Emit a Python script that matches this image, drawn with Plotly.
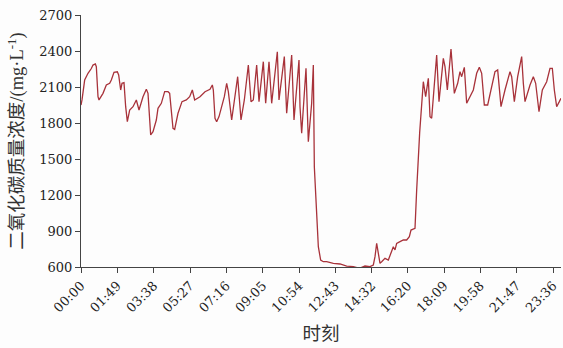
import plotly.graph_objects as go

# time in minutes since 00:00
minutes = [0, 3, 11, 21, 31, 36, 43, 46, 51, 54, 66, 76, 86, 91, 99, 109, 113, 119, 123, 129,
           134, 139, 146, 156, 166, 174, 186, 196, 201, 209, 216, 226, 231, 241, 251, 261, 266,
           276, 281, 291, 303, 316, 326, 334, 341, 349, 357, 372, 387, 394, 397, 402, 407, 414,
           422, 430, 437, 442, 452, 460, 470, 480, 490, 502, 510, 517, 527, 534, 547, 554, 564,
           572, 589, 594, 610, 617, 632, 639, 654, 657, 662, 675, 682, 692, 697, 700, 705, 712,
           719, 727, 737, 757, 777, 797, 817, 835, 852, 867, 877, 882, 887, 892, 897, 902, 912,
           922, 929, 937, 942, 947, 957, 967, 977, 985, 990, 1002, 1007, 1016, 1027, 1034, 1042,
           1047, 1052, 1060, 1067, 1074, 1082, 1087, 1092, 1099, 1110, 1120, 1130, 1137, 1142,
           1150, 1157, 1167, 1177, 1187, 1195, 1202, 1210, 1220, 1230, 1242, 1250, 1260, 1272,
           1287, 1292, 1300, 1310, 1322, 1327, 1332, 1347, 1357, 1364, 1374, 1384, 1397, 1407,
           1414, 1420, 1427, 1435, 1440]

co2 = [1950, 1992, 2158, 2214, 2254, 2283, 2292, 2269, 2019, 1992, 2047, 2117, 2131, 2158, 2222,
       2227, 2200, 2075, 2131, 2136, 1936, 1811, 1908, 1936, 1992, 1908, 2019, 2081, 2047, 1700,
       1728, 1825, 1922, 1964, 2061, 2061, 2047, 1756, 1747, 1881, 1978, 1992, 2019, 2075, 1992,
       2006, 2019, 2061, 2081, 2117, 2075, 1839, 1811, 1853, 1936, 2019, 2131, 2061, 1825, 1992,
       2186, 1825, 1992, 2283, 1978, 1992, 2283, 1978, 2311, 1964, 2311, 1964, 2394, 1992, 2353,
       1881, 2367, 1825, 2325, 1936, 1714, 2256, 1644, 1964, 2283, 1436, 1103, 769, 658, 644,
       644, 631, 625, 608, 603, 589, 608, 603, 617, 686, 797, 714, 631, 644, 672, 658, 714, 769,
       742, 797, 811, 825, 825, 853, 908, 922, 1242, 1720, 2144, 2019, 2172, 1853, 1839, 2131,
       2367, 1978, 2186, 2339, 2269, 2075, 2417, 2047, 2131, 2228, 2186, 2264, 1964, 2019, 2075,
       2214, 2264, 2214, 1950, 1950, 2075, 2228, 2242, 1936, 2075, 2228, 2186, 1978, 2186, 2353,
       2131, 1978, 2117, 2186, 2131, 1894, 2075, 2144, 2256, 2256, 2075, 1936, 1978, 2006]

tick_minutes = [0, 109, 218, 327, 436, 545, 654, 763, 872, 980, 1089, 1198, 1307, 1416]
tick_labels = ["00:00", "01:49", "03:38", "05:27", "07:16", "09:05", "10:54",
               "12:43", "14:32", "16:20", "18:09", "19:58", "21:47", "23:36"]
y_ticks = [600, 900, 1200, 1500, 1800, 2100, 2400, 2700]

fig = go.Figure()
fig.add_trace(go.Scatter(x=minutes, y=co2, mode="lines",
                         line=dict(color="#a8323a", width=1.3), showlegend=False))

tick_font = dict(family="DejaVu Serif, Liberation Serif, serif", size=13, color="#222222")
title_font = dict(family="Liberation Serif, Noto Sans CJK SC, serif", size=18.5, color="#333333")

fig.update_layout(
    width=563, height=348,
    margin=dict(l=81, r=2, t=15, b=81, autoexpand=False),
    paper_bgcolor="#fdfdfd", plot_bgcolor="#fdfdfd",
    xaxis=dict(range=[0, 1440], tickmode="array", tickvals=tick_minutes, ticktext=tick_labels,
               tickangle=-45, ticks="outside", ticklen=5, tickcolor="#444444",
               showline=True, linecolor="#444444", linewidth=1, showgrid=False, zeroline=False,
               tickfont=tick_font, automargin=False,
               title=dict(text="时刻", font=title_font, standoff=12)),
    yaxis=dict(range=[600, 2700], tickmode="array", tickvals=y_ticks,
               ticks="outside", ticklen=5, tickcolor="#444444",
               showline=True, linecolor="#444444", linewidth=1, showgrid=False, zeroline=False,
               tickfont=tick_font, automargin=False,
               title=dict(text="二氧化碳质量浓度/(mg·L<sup>-1</sup>)", font=title_font, standoff=10)),
)

fig.write_html("out.html", config={"displayModeBar": False},
               post_script="document.body.style.margin='0';")
